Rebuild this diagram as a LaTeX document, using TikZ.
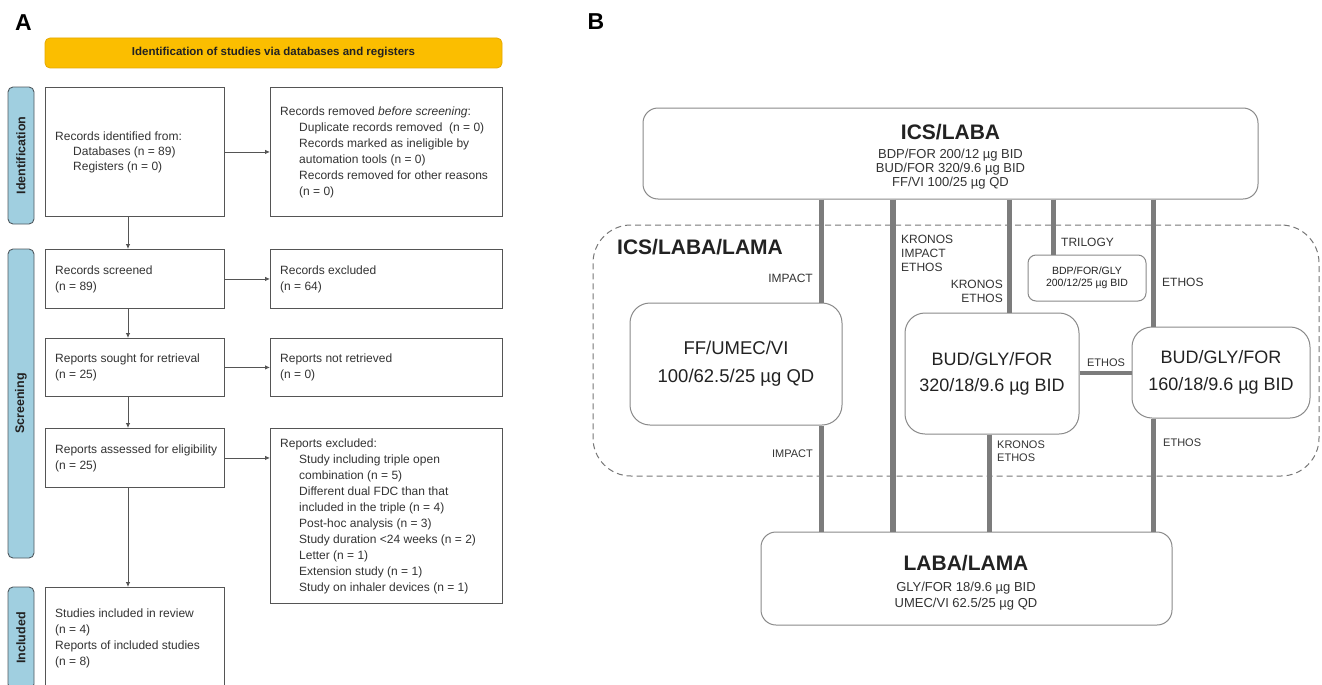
\documentclass[tikz,border=0pt]{standalone}
\usepackage{fontspec}
\setmainfont{Liberation Sans}
\usetikzlibrary{arrows.meta}
\definecolor{banner}{HTML}{FBBE00}
\definecolor{bannerline}{HTML}{E5A800}
\definecolor{sidefill}{HTML}{A0CFE0}
\definecolor{sideline}{HTML}{505A60}
\definecolor{boxline}{HTML}{555555}
\definecolor{rline}{HTML}{8A8A8A}
\definecolor{dline}{HTML}{777777}
\definecolor{connc}{HTML}{7C7C7C}
\definecolor{txt}{HTML}{222222}
\definecolor{ltxt}{HTML}{333333}
\newcommand{\fs}[2]{\fontsize{#1}{#2}\selectfont}
\begin{document}
\begin{tikzpicture}[x=1pt,y=-1pt,
  lbox/.style={draw=boxline, line width=0.9pt, fill=white, inner sep=0pt, anchor=north west},
  ltext/.style={anchor=west, align=left, inner sep=0pt, font=\fs{12}{16}, text=ltxt},
  side/.style={draw=sideline, line width=0.9pt, fill=sidefill, rounded corners=5pt, rotate=90, font=\fs{12.5}{14}\bfseries, text=txt, inner sep=0pt},
  arr/.style={draw=boxline, line width=0.8pt, -{Latex[length=5pt,width=4.5pt]}},
  bb/.style={draw=rline, line width=1pt, fill=white, rounded corners=#1, align=center, text=txt},
  conn/.style={draw=connc, line width=5pt},
  ttl/.style={font=\fs{21}{24}\bfseries, text=txt, inner sep=0pt, anchor=base},
  subl/.style={font=\fs{13}{14}, text=ltxt, inner sep=0pt, anchor=base},
  labA/.style={font=\fs{12}{14}, text=ltxt, inner sep=0pt},
  labB/.style={font=\fs{11}{13}, text=ltxt, inner sep=0pt},
  panel/.style={font=\fs{23}{26}\bfseries, text=black, inner sep=0pt, anchor=base}
]
\useasboundingbox (0,0) rectangle (1322,685);
\clip (0,0) rectangle (1322,685);
\fill[white] (0,0) rectangle (1322,685);

% ---------------- Panel A ----------------
\node[panel] (pA) at (23.5,30.5) {A};
\node[draw=bannerline, line width=0.8pt, fill=banner, rounded corners=5pt, minimum width=457, minimum height=30, inner sep=0pt, font=\fs{11.5}{14}\bfseries, text=txt] (ban) at (273.5,53) {Identification of studies via databases and registers};

\node[side, minimum width=137, minimum height=26] (s1) at (21,155.5) {Identification};
\node[side, minimum width=309, minimum height=26] (s2) at (21,403.5) {Screening};
\node[side, minimum width=102, minimum height=26] (s3) at (21,638) {Included};

\node[lbox, minimum width=179, minimum height=129] (b1) at (45,87) {};
\node[lbox, minimum width=232, minimum height=129] (r1) at (270,87) {};
\node[lbox, minimum width=179, minimum height=59] (b2) at (45,249) {};
\node[lbox, minimum width=232, minimum height=59] (r2) at (270,249) {};
\node[lbox, minimum width=179, minimum height=58] (b3) at (45,338) {};
\node[lbox, minimum width=232, minimum height=58] (r3) at (270,338) {};
\node[lbox, minimum width=179, minimum height=59] (b4) at (45,428) {};
\node[lbox, minimum width=232, minimum height=175] (r4) at (270,428) {};
\node[lbox, minimum width=179, minimum height=101] (b5) at (45,587) {};

\node[ltext, font=\fs{12}{15}] (b1t) at ([xshift=10pt]b1.west) {Records identified from:\\\hspace*{18pt}Databases (n = 89)\\\hspace*{18pt}Registers (n = 0)};
\node[ltext] (r1t) at ([xshift=10pt]r1.west) {Records removed \textit{before screening}:\\\hspace*{19pt}Duplicate records removed\ \ (n = 0)\\\hspace*{19pt}Records marked as ineligible by\\\hspace*{19pt}automation tools (n = 0)\\\hspace*{19pt}Records removed for other reasons\\\hspace*{19pt}(n = 0)};
\node[ltext] (b2t) at ([xshift=10pt]b2.west) {Records screened\\(n = 89)};
\node[ltext] (r2t) at ([xshift=10pt]r2.west) {Records excluded\\(n = 64)};
\node[ltext] (b3t) at ([xshift=10pt]b3.west) {Reports sought for retrieval\\(n = 25)};
\node[ltext] (r3t) at ([xshift=10pt]r3.west) {Reports not retrieved\\(n = 0)};
\node[ltext] (b4t) at ([xshift=10pt]b4.west) {Reports assessed for eligibility\\(n = 25)};
\node[ltext] (r4t) at ([xshift=10pt]r4.west) {Reports excluded:\\\hspace*{19pt}Study including triple open\\\hspace*{19pt}combination (n = 5)\\\hspace*{19pt}Different dual FDC than that\\\hspace*{19pt}included in the triple (n = 4)\\\hspace*{19pt}Post-hoc analysis (n = 3)\\\hspace*{19pt}Study duration <24 weeks (n = 2)\\\hspace*{19pt}Letter (n = 1)\\\hspace*{19pt}Extension study (n = 1)\\\hspace*{19pt}Study on inhaler devices (n = 1)};
\node[ltext] (b5t) at ([xshift=10pt]b5.west) {Studies included in review\\(n = 4)\\Reports of included studies\\(n = 8)};

\coordinate (vx) at (128,0);
\draw[arr] (b1.south -| vx) -- (b2.north -| vx);
\draw[arr] (b2.south -| vx) -- (b3.north -| vx);
\draw[arr] (b3.south -| vx) -- (b4.north -| vx);
\draw[arr] (b4.south -| vx) -- (b5.north -| vx);
\draw[arr] (b1.east) -- (b1.east -| r1.west);
\draw[arr] (b2.east) -- (b2.east -| r2.west);
\draw[arr] (b3.east) -- (b3.east -| r3.west);
\draw[arr] (b4.east) -- (b4.east -| r4.west);

% ---------------- Panel B ----------------
\node[panel] (pB) at (596,29.8) {B};

\node[draw=dline, line width=1pt, dash pattern=on 6pt off 4pt, rounded corners=38pt, minimum width=726, minimum height=251, inner sep=0pt] (grp) at (956,350.5) {};
\node[font=\fs{21}{24}\bfseries, text=txt, inner sep=0pt, anchor=base west] (grpT) at (617,254.5) {ICS/LABA/LAMA};

\node[bb=15pt, minimum width=615, minimum height=91] (ics) at (950.5,153.5) {};
\node[bb=20pt, minimum width=212, minimum height=122, font=\fs{18.5}{28}] (ff) at (736,364) {FF/UMEC/VI\\100/62.5/25 µg QD};
\node[bb=20pt, minimum width=174, minimum height=121, font=\fs{18}{26}] (bud1) at (992,373.5) {BUD/GLY/FOR\\320/18/9.6 µg BID};
\node[bb=20pt, minimum width=178, minimum height=91, font=\fs{18}{27}] (bud2) at (1221,372.5) {BUD/GLY/FOR\\160/18/9.6 µg BID};
\node[bb=8pt, minimum width=118, minimum height=46, font=\fs{10.5}{12}] (tri) at (1087,278) {BDP/FOR/GLY\\200/12/25 µg BID};
\node[bb=15pt, minimum width=411, minimum height=93] (lab) at (966.5,578.5) {};

\node[ttl] (icsT) at (950.5,139.5) {ICS/LABA};
\node[subl] (ics1) at (950.5,158.7) {BDP/FOR 200/12 µg BID};
\node[subl] (ics2) at (950.5,172.7) {BUD/FOR 320/9.6 µg BID};
\node[subl] (ics3) at (950.5,186.7) {FF/VI 100/25 µg QD};

\node[ttl] (labT) at (966,570.5) {LABA/LAMA};
\node[subl] (lab1) at (966,591.7) {GLY/FOR 18/9.6 µg BID};
\node[subl] (lab2) at (966,607.7) {UMEC/VI 62.5/25 µg QD};

\coordinate (x1) at (821,0);
\coordinate (x2) at (893,0);
\coordinate (x3) at (1009,0);
\coordinate (x4) at (989,0);
\coordinate (x5) at (1053,0);
\coordinate (x6) at (1153,0);
\draw[conn] (ics.south -| x1) -- (ff.north -| x1);
\draw[conn] (ff.south -| x1) -- (lab.north -| x1);
\draw[conn, line width=6pt] (ics.south -| x2) -- (lab.north -| x2);
\draw[conn] (ics.south -| x3) -- (bud1.north -| x3);
\draw[conn] (bud1.south -| x4) -- (lab.north -| x4);
\draw[conn] (ics.south -| x5) -- (tri.north -| x5);
\draw[conn] (ics.south -| x6) -- (bud2.north -| x6);
\draw[conn] (bud2.south -| x6) -- (lab.north -| x6);
\draw[conn, line width=4pt] (bud2.west -| bud1.east) -- (bud2.west);

\node[labA, anchor=north east] (l1) at (813,273.7) {IMPACT};
\node[labA, anchor=north west, align=left] (l2) at (901,234.7) {KRONOS\\IMPACT\\ETHOS};
\node[labA, anchor=north east, align=right] (l3) at (1003,279.7) {KRONOS\\ETHOS};
\node[labA, anchor=north west] (l4) at (1061,237.7) {TRILOGY};
\node[labA, anchor=north west] (l5) at (1162,277.7) {ETHOS};
\node[labB, anchor=north east] (l6) at (813,450) {IMPACT};
\node[labB, anchor=north west, align=left] (l7) at (997,441) {KRONOS\\ETHOS};
\node[labB, anchor=north west] (l8) at (1163,439) {ETHOS};
\node[labB, anchor=north] (l9) at (1106,359) {ETHOS};
\end{tikzpicture}
\end{document}
